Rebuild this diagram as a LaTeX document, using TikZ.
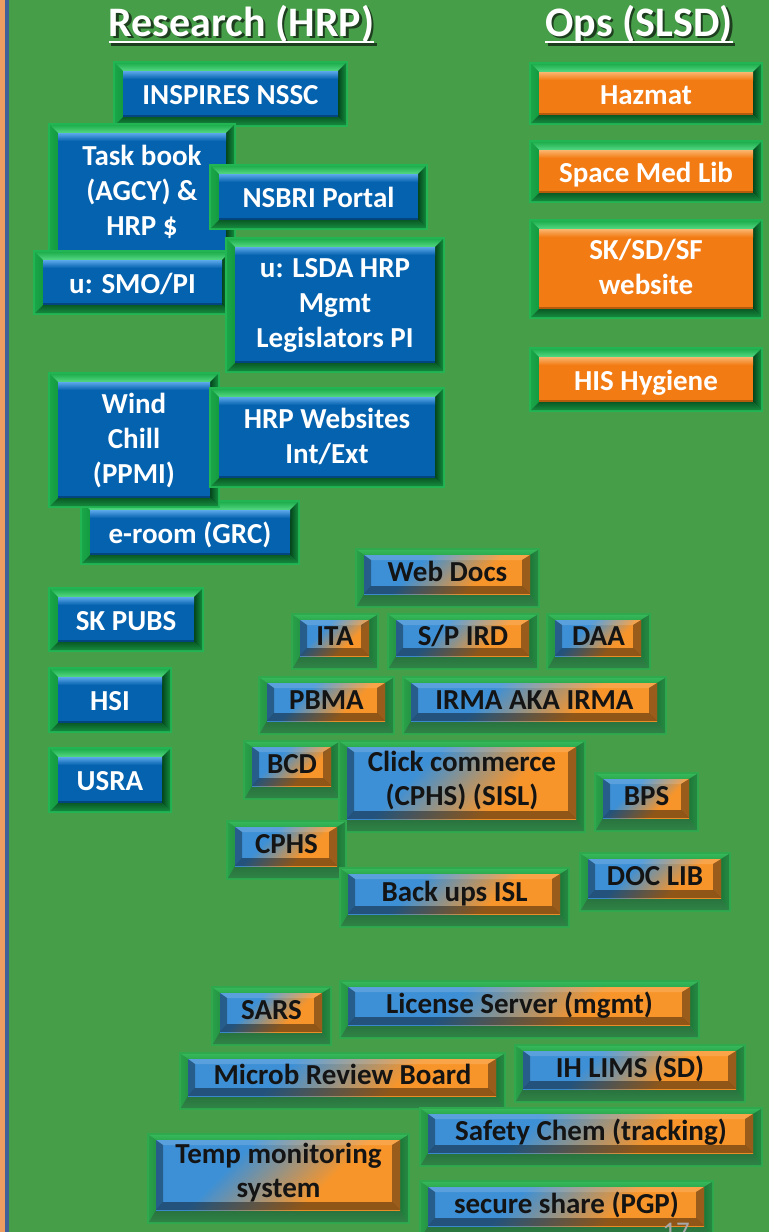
\documentclass[tikz,border=0pt]{standalone}
\usepackage{fontspec}
\setmainfont{Carlito}
\definecolor{bg}{HTML}{479E48}
\definecolor{stripO}{HTML}{EE9D62}
\definecolor{stripB}{HTML}{3F5F98}
\definecolor{bfline}{HTML}{22B553}
\definecolor{bfT1}{HTML}{1FAF4E}
\definecolor{bfT2}{HTML}{55D884}
\definecolor{bfL1}{HTML}{1AA548}
\definecolor{bfL2}{HTML}{149A40}
\definecolor{bfR1}{HTML}{04451C}
\definecolor{bfR2}{HTML}{138A3C}
\definecolor{bfB1}{HTML}{0A5A25}
\definecolor{bfB2}{HTML}{168A3E}
\definecolor{mfline}{HTML}{2FA94E}
\definecolor{mfT1}{HTML}{35B859}
\definecolor{mfT2}{HTML}{2CAA4E}
\definecolor{mfL1}{HTML}{2AA049}
\definecolor{mfL2}{HTML}{249444}
\definecolor{mfR1}{HTML}{1D7839}
\definecolor{mfR2}{HTML}{268A42}
\definecolor{mfB1}{HTML}{29723E}
\definecolor{mfB2}{HTML}{2E8446}
\definecolor{blueF}{HTML}{0562AE}
\definecolor{blueL}{HTML}{5BA8EA}
\definecolor{blueD}{HTML}{03467F}
\definecolor{oranF}{HTML}{F27B13}
\definecolor{oranL}{HTML}{FAB56F}
\definecolor{oranD}{HTML}{B65A0C}
\definecolor{mixB}{HTML}{3D90D6}
\definecolor{mixO}{HTML}{F8952A}
\definecolor{pgnum}{HTML}{A8A8A8}
\definecolor{tshadow}{HTML}{1E3F1F}
\pgfdeclareverticalshading{mixsh}{100bp}{color(0bp)=(mixO); color(37bp)=(mixO); color(63bp)=(mixB); color(100bp)=(mixB)}
\newcommand\shtitle[1]{\makebox[0pt][l]{\hspace{2.5pt}\raisebox{-2.5pt}{\textcolor{tshadow}{#1}}}#1}
\tikzset{
  btxt/.style={font=\fontsize{29}{35}\selectfont\bfseries, text=white, align=center, inner sep=0pt,
    execute at begin node=\strut, execute at end node=\strut},
  mtxt/.style={font=\fontsize{29}{34}\selectfont\bfseries, text=black!92, align=center, inner sep=0pt,
    execute at begin node=\strut, execute at end node=\strut},
  ttl/.style={font=\fontsize{42}{50}\selectfont\bfseries, text=white, inner sep=0pt, anchor=base},
}
% frame: x1 y1 x2 y2 top left right bottom colourset
\newcommand\frm[9]{%
  \pgfmathsetmacro\fxa{#1+2}\pgfmathsetmacro\fya{#2+2}%
  \pgfmathsetmacro\fxb{#3-2}\pgfmathsetmacro\fyb{#4-2}%
  \pgfmathsetmacro\ixa{#1+2+#6}\pgfmathsetmacro\iya{#2+2+#5}%
  \pgfmathsetmacro\ixb{#3-2-#7}\pgfmathsetmacro\iyb{#4-2-#8}%
  \fill[#9line] (#1,#2) rectangle (#3,#4);
  \shade[top color=#9T1,bottom color=#9T2] (\fxa,\fya) -- (\fxb,\fya) -- (\ixb,\iya) -- (\ixa,\iya) -- cycle;
  \shade[left color=#9L1,right color=#9L2] (\fxa,\fya) -- (\ixa,\iya) -- (\ixa,\iyb) -- (\fxa,\fyb) -- cycle;
  \shade[left color=#9R1,right color=#9R2] (\fxb,\fya) -- (\fxb,\fyb) -- (\ixb,\iyb) -- (\ixb,\iya) -- cycle;
  \shade[top color=#9B1,bottom color=#9B2] (\fxa,\fyb) -- (\fxb,\fyb) -- (\ixb,\iyb) -- (\ixa,\iyb) -- cycle;
}
\newcommand\plainbox[9]{%
  \frm{#2}{#3}{#4}{#5}{8}{8}{8}{8}{bf}%
  \fill[#6] (\ixa,\iya) rectangle (\ixb,\iyb);
  \shade[top color=#7,bottom color=#6] (\ixa,\iya) rectangle (\ixb,{\iya+8});
  \fill[#8] (\ixa,{\iyb-2}) rectangle (\ixb,\iyb);
  \node[btxt] (#1) at ({(#2+#4)/2},{(#3+#5)/2+3.5}) {#9};
}
\newcommand\bluebox[6]{\plainbox{#1}{#2}{#3}{#4}{#5}{blueF}{blueL}{blueD}{#6}}
\newcommand\oranbox[6]{\plainbox{#1}{#2}{#3}{#4}{#5}{oranF}{oranL}{oranD}{#6}}
\newcommand\mixbox[6]{%
  \frm{#2}{#3}{#4}{#5}{5}{7}{8}{12}{mf}%
  \pgfmathsetmacro\jxa{\ixa+7}\pgfmathsetmacro\jya{\iya+5}%
  \pgfmathsetmacro\jxb{\ixb-8}\pgfmathsetmacro\jyb{\iyb-8}%
  \shade[shading=mixsh,shading angle=45] (\ixa,\iya) rectangle (\ixb,\iyb);
  \fill[white,opacity=.15] (\ixa,\iya) -- (\ixb,\iya) -- (\jxb,\jya) -- (\jxa,\jya) -- cycle;
  \fill[black,opacity=.35] (\ixa,\iya) -- (\jxa,\jya) -- (\jxa,\jyb) -- (\ixa,\iyb) -- cycle;
  \fill[black,opacity=.38] (\ixb,\iya) -- (\ixb,\iyb) -- (\jxb,\jyb) -- (\jxb,\jya) -- cycle;
  \fill[black,opacity=.42] (\ixa,\iyb) -- (\ixb,\iyb) -- (\jxb,\jyb) -- (\jxa,\jyb) -- cycle;
  \node[mtxt] (#1) at ({(#2+#4)/2},{(#3+#5)/2-3}) {#6};
}
\begin{document}
\begin{tikzpicture}[x=1pt,y=-1pt]
\useasboundingbox (0,0) rectangle (769,1232);
\clip (0,0) rectangle (769,1232);
\fill[bg] (0,0) rectangle (769,1232);
\fill[stripO] (0,0) rectangle (4.5,1232);
\fill[stripB] (4.5,0) rectangle (9,1232);
% titles
\node[ttl] (tres) at (241.5,36) {\shtitle{Research (HRP)}};
\draw[tshadow,line width=2.5] ([xshift=2.5pt,yshift=-8.5pt]tres.base west) -- ([xshift=2.5pt,yshift=-8.5pt]tres.base east);
\draw[white,line width=2.5] ([yshift=-6pt]tres.base west) -- ([yshift=-6pt]tres.base east);
\node[ttl] (tops) at (639,36) {\shtitle{Ops (SLSD)}};
\draw[tshadow,line width=2.5] ([xshift=2.5pt,yshift=-8.5pt]tops.base west) -- ([xshift=2.5pt,yshift=-8.5pt]tops.base east);
\draw[white,line width=2.5] ([yshift=-6pt]tops.base west) -- ([yshift=-6pt]tops.base east);
% research (blue)
\bluebox{insp}{113}{61}{348}{127}{INSPIRES NSSC}
\bluebox{task}{48}{123}{236}{262}{Task book\\(AGCY) \&\\HRP \$}
\bluebox{nsbri}{209}{164}{428}{230}{NSBRI Portal}
\bluebox{smo}{33}{250}{232}{315}{u: SMO/PI}
\bluebox{lsda}{225}{237}{445}{373}{u: LSDA HRP\\Mgmt\\Legislators PI}
\bluebox{eroom}{80}{500}{300}{565}{e-room (GRC)}
\bluebox{wind}{48}{372}{220}{508}{Wind\\Chill\\(PPMI)}
\bluebox{hrpw}{209}{387}{445}{488}{HRP Websites\\Int/Ext}
\bluebox{skpubs}{48}{587}{204}{652}{SK PUBS}
\bluebox{hsi}{48}{667}{172}{733}{HSI}
\bluebox{usra}{48}{747}{172}{813}{USRA}
% ops (orange)
\oranbox{hazmat}{529}{62}{763}{125}{Hazmat}
\oranbox{sml}{529}{140}{763}{203}{Space Med Lib}
\oranbox{sksd}{529}{219}{763}{319}{SK/SD/SF\\website}
\oranbox{his}{529}{347}{763}{412}{HIS Hygiene}
% mixed
\mixbox{webdocs}{355}{548}{540}{608}{Web Docs}
\mixbox{ita}{291}{613}{379}{670}{ITA}
\mixbox{spird}{387}{613}{539}{670}{S/P IRD}
\mixbox{daa}{546}{613}{651}{670}{DAA}
\mixbox{pbma}{258}{676}{395}{735}{PBMA}
\mixbox{irma}{402}{676}{667}{735}{IRMA AKA IRMA}
\mixbox{bcd}{243}{740}{341}{800}{BCD}
\mixbox{click}{338}{740}{586}{833}{Click commerce\\(CPHS) (SISL)}
\mixbox{bps}{594}{772}{699}{832}{BPS}
\mixbox{cphs}{226}{820}{347}{880}{CPHS}
\mixbox{doclib}{579}{852}{731}{912}{DOC LIB}
\mixbox{backups}{339}{867}{570}{928}{Back ups ISL}
\mixbox{sars}{211}{986}{332}{1046}{SARS}
\mixbox{license}{339}{980}{700}{1039}{License Server (mgmt)}
\mixbox{microb}{179}{1052}{506}{1110}{Microb Review Board}
\mixbox{ihlims}{514}{1044}{746}{1103}{IH LIMS (SD)}
\mixbox{safety}{419}{1107}{763}{1167}{Safety Chem (tracking)}
\mixbox{temp}{147}{1133}{410}{1224}{Temp monitoring\\system}
\mixbox{secure}{419}{1180}{714}{1240}{secure share (PGP)}
% page number
\node[font=\fontsize{27}{30}\selectfont, text=pgnum, anchor=base, inner sep=0pt] (pnum) at (676,1240) {17};
\end{tikzpicture}
\end{document}
